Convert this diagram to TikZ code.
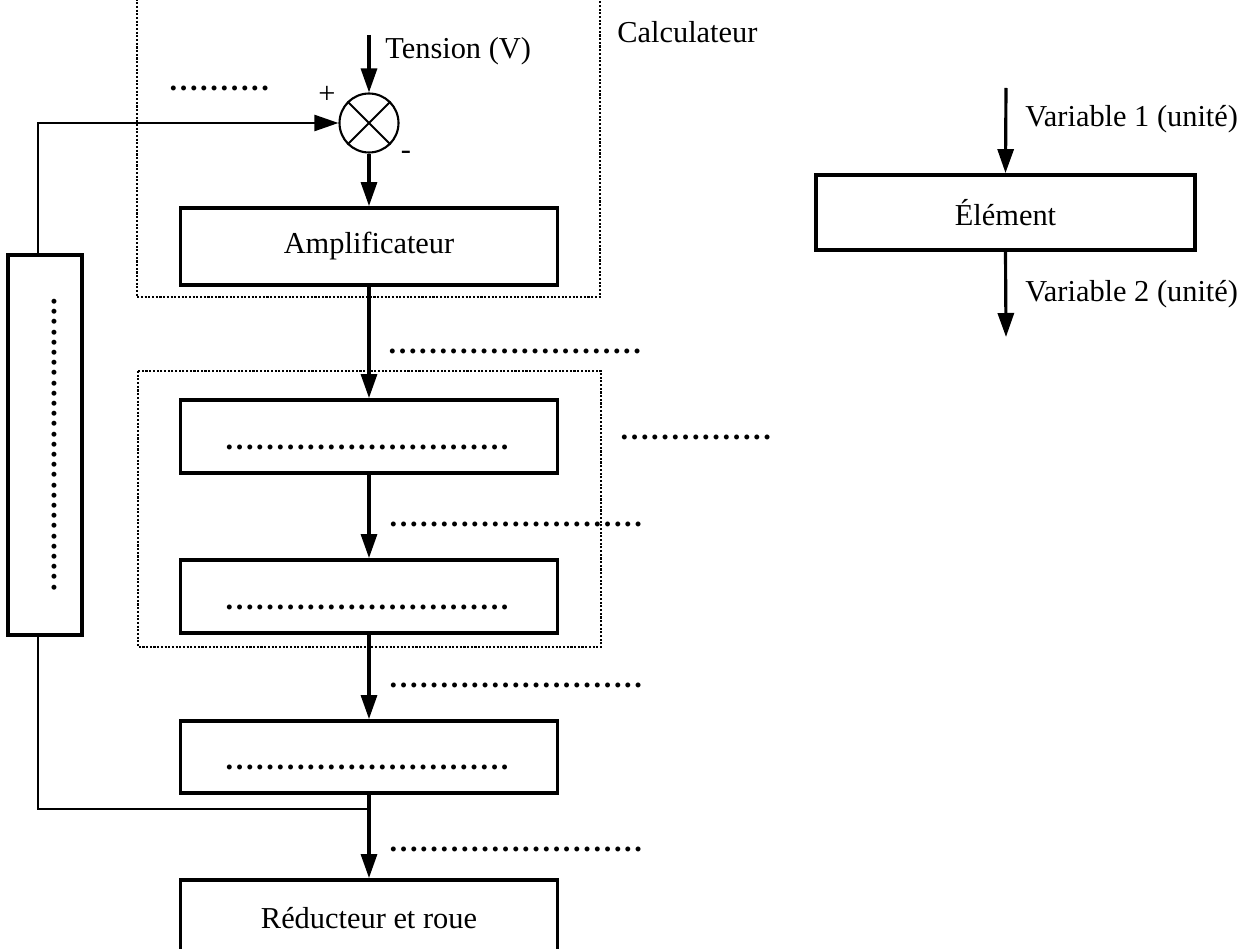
\documentclass[tikz,border=0pt]{standalone}
\usepackage{fontspec}
\setmainfont{Liberation Serif}
\usetikzlibrary{arrows.meta}
\newcommand\dotrow[1]{\foreach\i in {1,...,#1}{\makebox[0.204cm]{\bfseries .}}}
\tikzset{
  base/.style={font=\fontsize{17.3}{20}\selectfont},
  blk/.style={draw, line width=2.2pt, rectangle, inner sep=0pt, minimum width=7.54cm, minimum height=1.46cm, base},
  arr/.style={line width=1.8pt, -{Triangle[length=0.48cm, width=0.32cm]}},
  fb/.style={line width=1.3pt},
  dotbox/.style={line width=0.9pt, dash pattern=on 1.2pt off 0.9pt},
  lbl/.style={base, inner sep=0pt},
  dotstxt/.style={base, inner sep=0pt, anchor=west}
}
\begin{document}
\begin{tikzpicture}[x=0.02cm, y=-0.02cm]
\useasboundingbox (0,0) rectangle (1252,949);
\clip (0,0) rectangle (1252,949);
\fill[white] (0,0) rectangle (1252,949);

% dashed group boxes
\draw[dotbox] (137,-20) -- (137,297) -- (600,297) -- (600,-20);
\draw[dotbox] (138,371) rectangle (601,647);

% main blocks
\node[draw, circle, line width=1.2pt, minimum size=1.18cm, inner sep=0pt] (sum) at (369,123) {};
\draw[line width=1.2pt] (sum.north west) -- (sum.south east) (sum.north east) -- (sum.south west);
\node[blk, minimum height=1.54cm] (amp) at (369,246.5) {Amplificateur};
\node[blk] (b1) at (369,436.5) {};
\node[blk] (b2) at (369,596.5) {};
\node[blk, minimum height=1.44cm] (b3) at (369,757) {};
\node[blk, minimum height=1.52cm] (red) at (369,918) {Réducteur et roue};
\node[blk, minimum width=1.48cm, minimum height=7.6cm] (left) at (45,445) {};
\node[blk, minimum width=7.58cm, minimum height=1.5cm] (elem) at (1005.5,212.5) {Élément};

% dots inside blocks
\node[dotstxt] (d1) at (224,447) {\dotrow{28}};
\node[dotstxt] (d2) at (224,607) {\dotrow{28}};
\node[dotstxt] (d3) at (224,767) {\dotrow{28}};
\node[base, inner sep=0pt, rotate=90] (dl) at (54,444.5) {\dotrow{29}};

% dots labels outside
\node[dotstxt] (dA) at (168,88) {\dotrow{10}};
\node[dotstxt] (dB) at (387,351) {\dotrow{25}};
\node[dotstxt] (dC) at (619,437) {\dotrow{15}};
\node[dotstxt] (dD) at (388,524) {\dotrow{25}};
\node[dotstxt] (dE) at (388,685) {\dotrow{25}};
\node[dotstxt] (dF) at (388,849) {\dotrow{25}};

% text labels
\node[lbl, anchor=base west] (calc) at (617,43) {Calculateur};
\node[lbl, anchor=base west] (tens) at (385,59) {Tension (V)};
\node[lbl] (plus) at (327,95) {+};
\node[lbl] (minus) at (406,155) {-};
\node[lbl, anchor=base west] (var1) at (1025,127) {Variable 1 (unité)};
\node[lbl, anchor=base west] (var2) at (1025,302) {Variable 2 (unité)};

% connectors
\coordinate (tin) at (369,35);
\draw[arr] (tin) -- (sum.north);
\draw[arr] (sum.south) -- (amp.north);
\draw[arr] (amp.south) -- (b1.north);
\draw[arr] (b1.south) -- (b2.north);
\draw[arr] (b2.south) -- (b3.north);
\draw[arr] (b3.south) -- (red.north);
\draw[fb, -{Triangle[length=0.48cm, width=0.32cm]}] ([xshift=-0.14cm]left.north) |- (sum.west);
\coordinate (j) at (369,809);
\draw[fb] ([xshift=-0.14cm]left.south) |- (j);
\coordinate (v1) at (1006,88);
\coordinate (v2) at (1006,337);
\draw[arr] (v1) -- (elem.north);
\draw[arr] (elem.south) -- (v2);
\end{tikzpicture}
\end{document}
